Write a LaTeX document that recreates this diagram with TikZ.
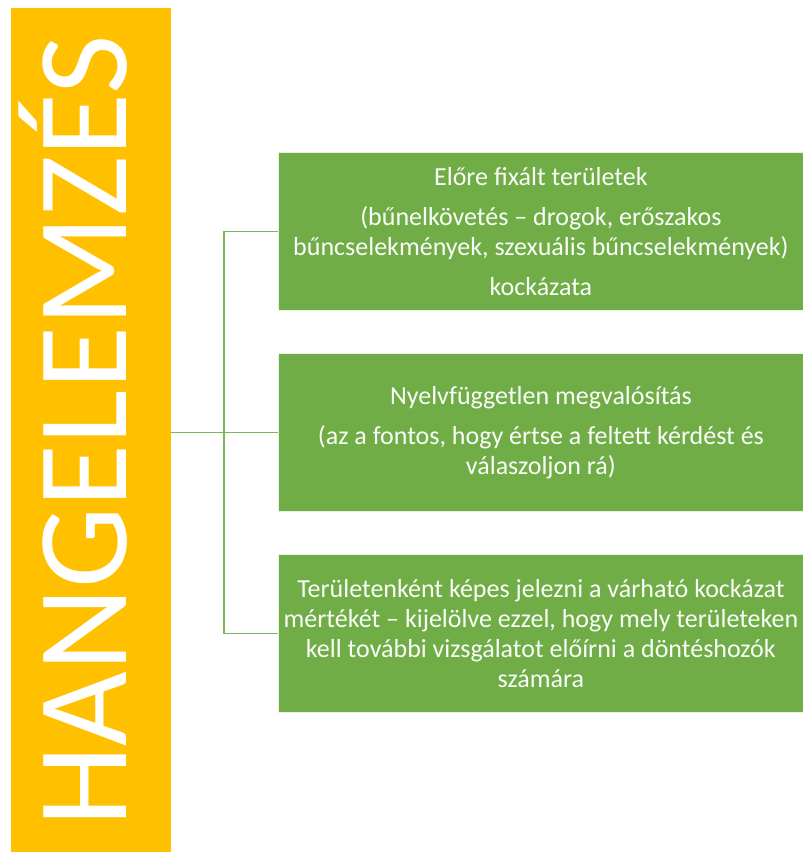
\documentclass[tikz,border=0pt]{standalone}
\usepackage{fontspec}
\setmainfont{Carlito}
\definecolor{gold}{HTML}{FFC000}
\definecolor{leaf}{HTML}{70AD47}
\definecolor{linkc}{HTML}{7DB65A}
\begin{document}
\begin{tikzpicture}[x=1pt,y=-1pt,
  item/.style={fill=leaf,draw=white!85!leaf,line width=0.8pt,minimum width=525pt,minimum height=158pt,
    anchor=north west,inner sep=0pt,align=center,text=white!96!leaf,font=\fontsize{26}{30}\selectfont},
  link/.style={draw=linkc,line width=1.4pt}]
\useasboundingbox (0,0) rectangle (803,852);
\node[fill=gold,minimum width=160pt,minimum height=844pt,inner sep=0pt,anchor=north west] (root) at (10.5,8) {};
\node[rotate=90,anchor=base,inner sep=0pt,text=white,font=\fontsize{129}{130}\selectfont] (title) at (126,431) {HANGELEMZÉS};
\node[item] (b1) at (278,152) {Előre fixált területek\\[10pt](bűnelkövetés – drogok, erőszakos\\bűncselekmények, szexuális bűncselekmények)\\[10pt]kockázata};
\node[item] (b2) at (278,353) {Nyelvfüggetlen megvalósítás\\[10pt](az a fontos, hogy értse a feltett kérdést és\\válaszoljon rá)};
\node[item] (b3) at (278,554) {Területenként képes jelezni a várható kockázat\\mértékét – kijelölve ezzel, hogy mely területeken\\kell további vizsgálatot előírni a döntéshozók\\számára};
\coordinate (j) at (224,432);
\draw[link] (root.east |- b2.west) -- (b2.west);
\draw[link] (b1.west) -- (b1.west -| j) -- (b3.west -| j) -- (b3.west);
\end{tikzpicture}
\end{document}
